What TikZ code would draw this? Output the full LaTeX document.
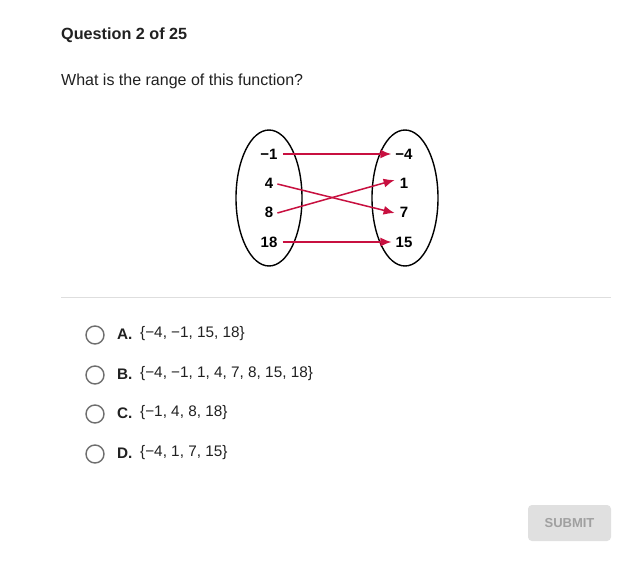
\documentclass[tikz,border=0pt]{standalone}
\usepackage{fontspec}
\setmainfont{Liberation Sans}
\usepackage{tikz}
\usetikzlibrary{arrows}
\usetikzlibrary{arrows.meta}
\usetikzlibrary{positioning}
\definecolor{mapred}{RGB}{200,16,64}
\definecolor{ringgray}{RGB}{110,110,110}
\definecolor{rulegray}{RGB}{222,222,222}
\definecolor{btngray}{RGB}{224,224,224}
\definecolor{btntext}{RGB}{160,160,160}
\definecolor{txt}{RGB}{33,33,33}
\tikzset{elem/.style = {font=\fontsize{15}{16}\selectfont\bfseries, inner sep = 1},
  maparrow/.style = {draw=mapred, line width = 1.5, -{Latex[length=11, width=9]}},
  radio/.style = {draw=ringgray, circle, line width = 1.4, minimum size = 18, inner sep = 0},
  choice/.style = {anchor = west, font=\fontsize{15.3}{16}\selectfont, text=txt, inner sep = 0}}

\begin{document}
\begin{tikzpicture}[x=1pt, y=-1pt]
      \useasboundingbox[fill=white] (0, 0) rectangle (629, 583);

      \node [anchor=base west, inner sep=0, font=\fontsize{16.2}{18}\selectfont\bfseries, text=txt] (title) at (61, 40) {Question 2 of 25};
      \node [anchor=base west, inner sep=0, font=\fontsize{16}{18}\selectfont, text=txt] (ask) at (61, 86) {What is the range of this function?};

      % domain and range
      \draw [line width=1.4] (269, 198) ellipse [x radius=33, y radius=68];
      \draw [line width=1.4] (405, 198) ellipse [x radius=33, y radius=68];

      \node [elem] (d1) at (269, 154) {\textminus1};
      \node [elem] (d2) at (269, 183) {4};
      \node [elem] (d3) at (269, 212) {8};
      \node [elem] (d4) at (269, 242) {18};

      \node [elem] (r1) at (404, 154) {\textminus4};
      \node [elem] (r2) at (404, 183) {1};
      \node [elem] (r3) at (404, 212) {7};
      \node [elem] (r4) at (404, 242) {15};

      \draw [maparrow] ([xshift=4]d1.east) -- ([xshift=-3]r1.west);
      \draw [maparrow] ([xshift=3, yshift=-1]d2.east) -- ([xshift=-4, yshift=-1]r3.west);
      \draw [maparrow] ([xshift=3, yshift=-1]d3.east) -- ([xshift=-4, yshift=3]r2.west);
      \draw [maparrow] ([xshift=4]d4.east) -- ([xshift=-3]r4.west);

      \draw [rulegray, line width=1] (61, 297) coordinate (ruleL) -- (611, 297) coordinate (ruleR);

      % answer choices
      \foreach \y/\lab/\set [count=\i] in {335/A./{\{\textminus4, \textminus1, 15, 18\}},
          375/B./{\{\textminus4, \textminus1, 1, 4, 7, 8, 15, 18\}},
          414/C./{\{\textminus1, 4, 8, 18\}},
          454/D./{\{\textminus4, 1, 7, 15\}}} {
        \node [radio] (radio\i) at (95, \y) {};
        \node [choice, font=\fontsize{15.3}{16}\selectfont\bfseries] (letter\i) at (117, \y - 1) {\lab};
        \node [choice] (set\i) at (140, \y - 1) {\set};
      }

      \draw [fill=btngray, draw=none, rounded corners=4] (528, 505) rectangle (611, 541);
      \node [font=\fontsize{13}{14}\selectfont\bfseries, text=btntext] (submit) at (569.5, 523) {SUBMIT};
    \end{tikzpicture}
\end{document}
